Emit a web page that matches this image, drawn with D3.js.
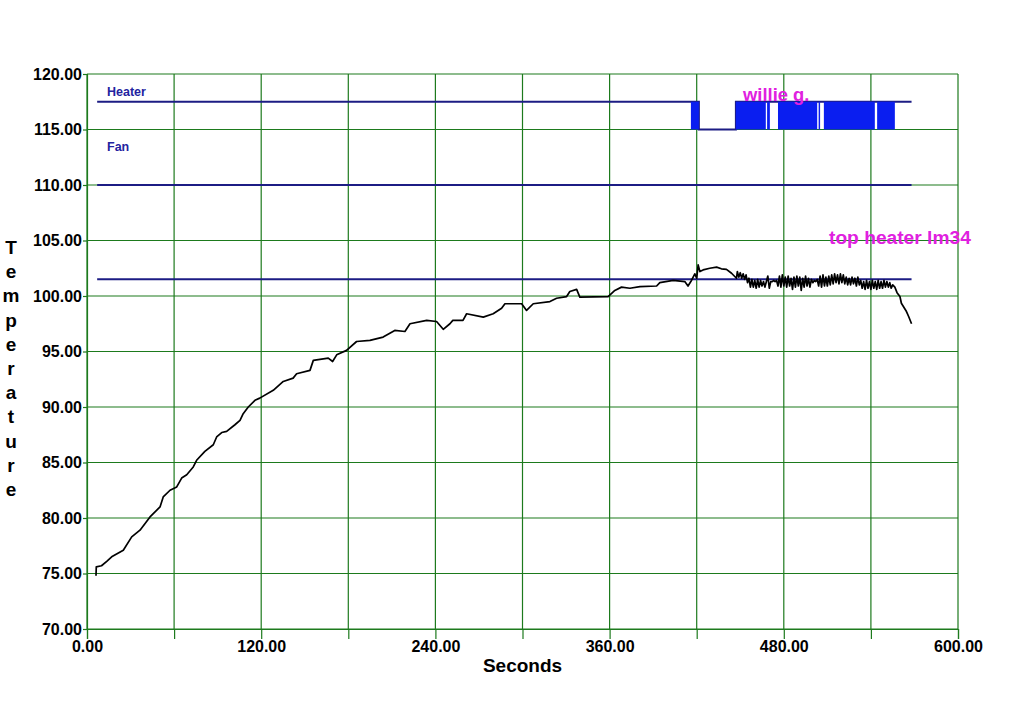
<!DOCTYPE html>
<html>
<head>
<meta charset="utf-8">
<script src="https://cdn.jsdelivr.net/npm/d3@7/dist/d3.min.js"></script>
<style>
  html, body { margin: 0; padding: 0; background: #ffffff; }
  svg { display: block; }
</style>
</head>
<body>
<svg id="chart" width="1016" height="703"></svg>
<script>
// ---------- DATA ----------
const xTicks = [0, 60, 120, 180, 240, 300, 360, 420, 480, 540, 600];
const xLabelTicks = [0, 120, 240, 360, 480, 600];
const yTicks = [70, 75, 80, 85, 90, 95, 100, 105, 110, 115, 120];

const traceStart = 7;
const traceEnd = 568;
const heaterOnLevel = 117.5;
const heaterOffLevel = 115;
const fanLevel = 110;
const setpointLevel = 101.5;

// heater segment boundaries (seconds) and state of each segment
const heaterSeconds = [7, 416, 421.5, 447, 467.6, 468.5, 470.4, 476, 503, 504, 505, 507.6, 542.7, 544.3, 556.5, 568];
const heaterStates  = ["on", "pwm", "off", "pwm", "on", "pwm", "on", "pwm", "on", "pwm", "on", "pwm", "on", "pwm", "on"];

// top heater lm34 temperature readings [seconds, °F]
const tempReadings = [
  [6.2, 74.8], [6.4, 75.6], [10, 75.7], [13.6, 76.1], [17, 76.5], [25, 77.1], [30.8, 78.3],
  [36.5, 78.9], [43.4, 80.1], [50.3, 81.0], [52.5, 81.9], [57.2, 82.5], [61.8, 82.8],
  [65.2, 83.6], [68.7, 83.9], [73.2, 84.6], [75.5, 85.2], [81.2, 86.0], [87, 86.6],
  [89.3, 87.3], [92.8, 87.7], [96.2, 87.8], [101.9, 88.4], [105.4, 88.8], [107.6, 89.4],
  [111.1, 90.0], [115.7, 90.6], [119, 90.8], [128.3, 91.5], [135.2, 92.3], [142, 92.6],
  [144.4, 93.0], [153.6, 93.3], [155.9, 94.2], [166.2, 94.4], [169.2, 94.1], [172, 94.7],
  [178.8, 95.1], [185.7, 95.9], [194.9, 96.0], [204, 96.3], [212, 96.9], [219, 96.8],
  [222.5, 97.5], [234, 97.8], [240.8, 97.7], [245.4, 97.0], [250, 97.5], [252, 97.8],
  [259, 97.8], [261.5, 98.4], [273, 98.1], [279.8, 98.4], [285.6, 98.9], [287.9, 99.3],
  [299.4, 99.3], [302.8, 98.7], [307.4, 99.3], [318.9, 99.5], [323.5, 99.8], [330.4, 99.95],
  [332.6, 100.4], [337.3, 100.6], [339.5, 99.9], [359, 99.95], [363.6, 100.5], [368.2, 100.8],
  [374, 100.7], [380.9, 100.85], [392.4, 100.9], [394.6, 101.2], [403.8, 101.4], [411.8, 101.3],
  [414, 100.9], [416.4, 101.4], [418.7, 102.0], [420, 101.6], [421, 102.8], [422.2, 102.2],
  [424.4, 102.35], [429, 102.5], [433.7, 102.6], [437, 102.45], [440.5, 102.4], [444, 102.05],
  [447.4, 101.6],
  [448, 102.2], [449, 101.7], [450, 102.1], [451, 101.6], [452, 102.0], [453, 101.5],
  [454, 101.9], [455, 101.2], [456, 101.6], [457, 100.8], [458, 101.5], [459, 100.8],
  [460, 101.4], [461, 100.7], [462, 101.5], [463, 100.8], [464, 101.4], [465, 100.9],
  [466, 101.3], [467, 100.8], [468, 101.3], [469, 101.8], [470, 100.7], [471, 101.3],
  [472, 101.3], [473, 101.4], [474, 101.3], [475, 101.4], [476, 100.9], [477, 101.8],
  [478, 100.8], [479, 101.9], [480, 100.9], [481, 101.7], [482, 100.8], [483, 101.8],
  [484, 100.9], [485, 101.6], [486, 100.6], [487, 101.7], [488, 100.8], [489, 101.8],
  [490, 100.9], [491, 101.7], [492, 100.5], [493, 101.6], [494, 100.8], [495, 101.8],
  [496, 100.9], [497, 101.6], [498, 100.8], [499, 101.5], [500, 101.2], [501, 101.4],
  [502, 101.3], [503, 101.5], [504, 100.9], [505, 101.8], [506, 100.8], [507, 101.9],
  [508, 100.9], [509, 101.7], [510, 100.9], [511, 101.8], [512, 101.0], [513, 101.9],
  [514, 101.1], [515, 102.0], [516, 101.2], [517, 101.9], [518, 101.1], [519, 102.0],
  [520, 101.2], [521, 101.9], [522, 101.1], [523, 101.7], [524, 101.0], [525, 101.6],
  [526, 101.0], [527, 101.7], [528, 101.1], [529, 101.6], [530, 100.9], [531, 101.7],
  [532, 101.0], [533, 101.4], [534, 100.7], [535, 101.3], [536, 100.6], [537, 101.4],
  [538, 100.7], [539, 101.3], [540, 100.6], [541, 101.4], [542, 100.7], [543, 101.3],
  [544, 100.6], [545, 101.4], [546, 100.7], [547, 101.3], [548, 100.7], [549, 101.4],
  [550, 100.8], [551, 101.3], [552, 100.8], [553, 101.2], [554, 100.7], [555, 101.0],
  [556.5, 100.8], [558, 100.3], [560, 99.95], [561, 99.35], [564.5, 98.6], [566, 98.15], [568, 97.5]
];

// ---------- CHART ----------
const svg = d3.select("#chart");
const W = 1016, H = 703;
const plotLeft = 87, plotRight = 958, plotTop = 74, plotBottom = 629;
const gridColor = "#1d7a1d";
const navy = "#1c1c84";
const fontFam = "'Liberation Sans', Arial, sans-serif";

svg.append("rect").attr("width", W).attr("height", H).attr("fill", "#fff");

const x = d3.scaleLinear().domain([0, 600]).range([plotLeft, plotRight]);
const y = d3.scaleLinear().domain([70, 120]).range([plotBottom, plotTop]);

// grid lines
svg.append("g").selectAll("line").data(xTicks).join("line")
  .attr("x1", d => x(d)).attr("x2", d => x(d))
  .attr("y1", plotTop).attr("y2", plotBottom)
  .attr("stroke", gridColor).attr("stroke-width", 1.2);
svg.append("g").selectAll("line").data(yTicks).join("line")
  .attr("x1", plotLeft).attr("x2", plotRight)
  .attr("y1", d => y(d)).attr("y2", d => y(d))
  .attr("stroke", gridColor).attr("stroke-width", 1.2);

// axes
const xAxis = d3.axisBottom(x).tickValues(xTicks).tickSize(10).tickPadding(2)
  .tickFormat(d => xLabelTicks.includes(d) ? d3.format(".2f")(d) : "");
const gx = svg.append("g").attr("transform", `translate(0,${plotBottom})`).call(xAxis);
const yAxis = d3.axisLeft(y).tickValues(yTicks).tickSize(4).tickPadding(1)
  .tickFormat(d3.format(".2f"));
const gy = svg.append("g").attr("transform", `translate(${plotLeft},0)`).call(yAxis);
[gx, gy].forEach(g => {
  g.select(".domain").attr("stroke", gridColor).attr("stroke-width", 1.2);
  g.selectAll(".tick line").attr("stroke", gridColor).attr("stroke-width", 1.2);
  g.selectAll(".tick text").attr("fill", "#000").style("font-family", fontFam)
    .style("font-size", "16px").style("font-weight", "bold");
});

// axis titles
svg.append("text").attr("x", (plotLeft + plotRight) / 2).attr("y", 672)
  .attr("text-anchor", "middle").style("font-family", fontFam)
  .style("font-size", "19px").style("font-weight", "bold").text("Seconds");
const yTitle = "Temperature".split("");
svg.append("g").selectAll("text").data(yTitle).join("text")
  .attr("x", 11).attr("y", (d, i) => 254 + i * 24.2)
  .attr("text-anchor", "middle").style("font-family", fontFam)
  .style("font-size", "19px").style("font-weight", "bold").text(d => d);

// fan and setpoint lines
[fanLevel, setpointLevel].forEach(v => {
  svg.append("line").attr("x1", x(traceStart)).attr("x2", x(traceEnd))
    .attr("y1", y(v)).attr("y2", y(v)).attr("stroke", navy).attr("stroke-width", 2);
});

// heater trace
const heaterSegs = heaterStates.map((s, i) => ({ s, a: heaterSeconds[i], b: heaterSeconds[i + 1] }));
const stepPts = [];
heaterSegs.forEach(seg => {
  const v = seg.s === "off" ? heaterOffLevel : heaterOnLevel;
  stepPts.push([seg.a, v], [seg.b, v]);
});
svg.append("path").datum(stepPts)
  .attr("d", d3.line().x(d => x(d[0])).y(d => y(d[1])))
  .attr("fill", "none").attr("stroke", navy).attr("stroke-width", 2);
svg.append("g").selectAll("rect").data(heaterSegs.filter(d => d.s === "pwm")).join("rect")
  .attr("x", d => x(d.a)).attr("width", d => x(d.b) - x(d.a))
  .attr("y", y(heaterOnLevel)).attr("height", y(heaterOffLevel) - y(heaterOnLevel))
  .attr("fill", "#0a1ef0");

// temperature trace
svg.append("path").datum(tempReadings)
  .attr("d", d3.line().x(d => x(d[0])).y(d => y(d[1])))
  .attr("fill", "none").attr("stroke", "#000").attr("stroke-width", 1.7)
  .attr("stroke-linejoin", "round");

// labels
svg.append("text").attr("x", 107).attr("y", 96).attr("fill", "#2323a0")
  .style("font-family", fontFam).style("font-size", "12.5px").style("font-weight", "bold").text("Heater");
svg.append("text").attr("x", 107).attr("y", 151).attr("fill", "#2323a0")
  .style("font-family", fontFam).style("font-size", "12.5px").style("font-weight", "bold").text("Fan");
svg.append("text").attr("x", 743).attr("y", 101).attr("fill", "#e020e0")
  .style("font-family", fontFam).style("font-size", "18.4px").style("font-weight", "bold").text("willie g.");
svg.append("text").attr("x", 829).attr("y", 244).attr("fill", "#e020e0")
  .style("font-family", fontFam).style("font-size", "19.2px").style("font-weight", "bold").text("top heater lm34");
</script>
</body>
</html>
